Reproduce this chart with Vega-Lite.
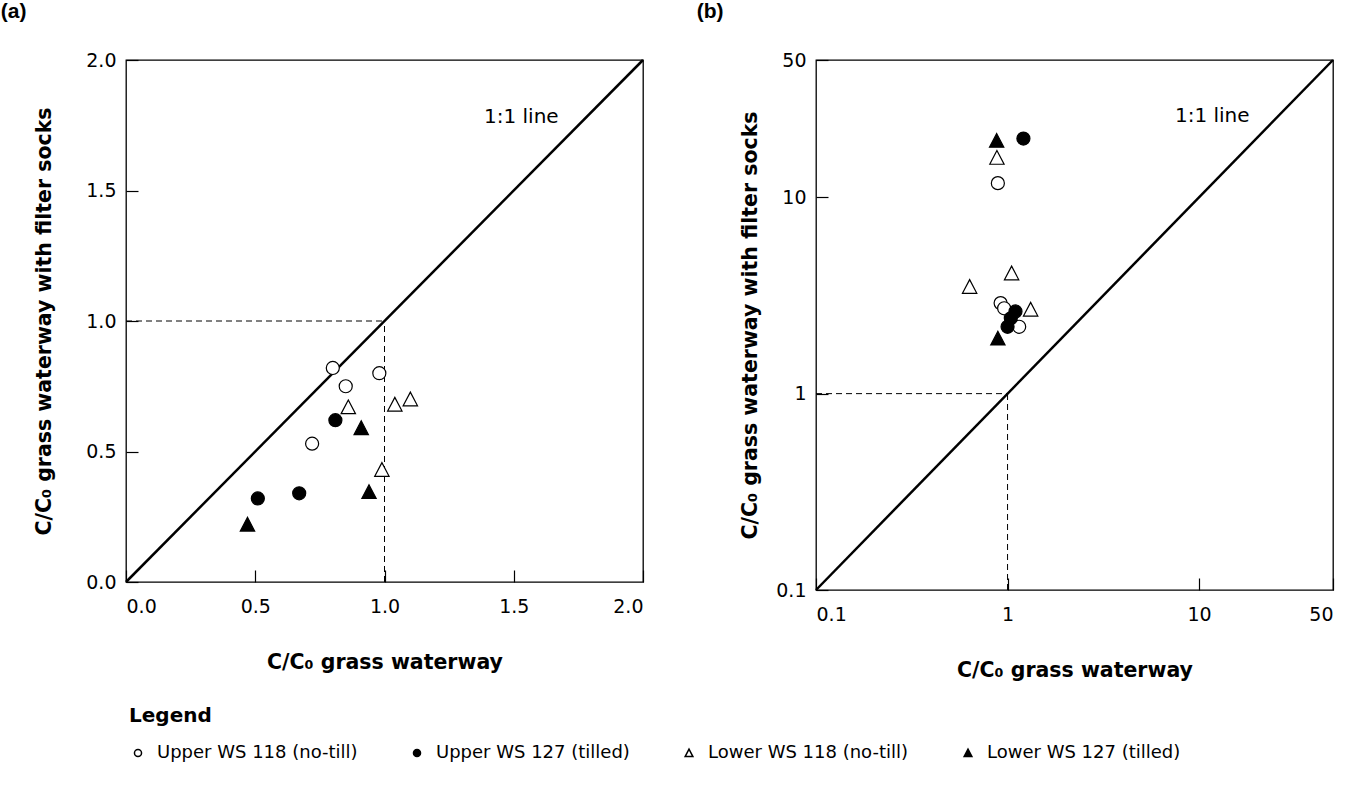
{
  "$schema": "https://vega.github.io/schema/vega-lite/v6.json",
  "padding": {"left": 0, "top": 0, "right": 5, "bottom": 5},
  "background": "white",
  "config": {
    "view": {"stroke": "black", "strokeWidth": 1.3},
    "axis": {"grid": false, "domain": false, "tickColor": "black", "tickSize": -12, "tickWidth": 1.2,
      "labelFont": "DejaVu Sans", "labelFontSize": 19, "labelColor": "black",
      "titleFont": "DejaVu Sans", "titleFontWeight": "bold", "titleFontSize": 20.5, "titleColor": "black"},
    "axisX": {"labelPadding": 27, "titlePadding": 36},
    "axisY": {"labelPadding": 22},
    "legend": {"orient": "none", "legendX": 3, "legendY": 646, "direction": "horizontal",
      "titleFont": "DejaVu Sans", "titleFontSize": 20, "titleFontWeight": "bold", "titleColor": "black", "titlePadding": 18,
      "labelFont": "DejaVu Sans", "labelFontSize": 18, "labelColor": "black", "labelLimit": 600, "symbolSize": 50,
      "columnPadding": 50, "labelOffset": 10},
    "title": {"font": "Liberation Sans", "fontSize": 21, "fontWeight": "bold", "anchor": "start", "frame": "bounds", "color": "black"}
  },
  "datasets": {
    "a_pts": [
      {"group": "Upper WS 118 (no-till)", "x": 0.80, "y": 0.82},
      {"group": "Upper WS 118 (no-till)", "x": 0.85, "y": 0.75},
      {"group": "Upper WS 118 (no-till)", "x": 0.98, "y": 0.80},
      {"group": "Upper WS 118 (no-till)", "x": 0.72, "y": 0.53},
      {"group": "Upper WS 127 (tilled)", "x": 0.81, "y": 0.62},
      {"group": "Upper WS 127 (tilled)", "x": 0.51, "y": 0.32},
      {"group": "Upper WS 127 (tilled)", "x": 0.67, "y": 0.34},
      {"group": "Lower WS 118 (no-till)", "x": 0.86, "y": 0.67},
      {"group": "Lower WS 118 (no-till)", "x": 1.04, "y": 0.68},
      {"group": "Lower WS 118 (no-till)", "x": 1.10, "y": 0.70},
      {"group": "Lower WS 118 (no-till)", "x": 0.99, "y": 0.43},
      {"group": "Lower WS 127 (tilled)", "x": 0.91, "y": 0.59},
      {"group": "Lower WS 127 (tilled)", "x": 0.94, "y": 0.345},
      {"group": "Lower WS 127 (tilled)", "x": 0.47, "y": 0.22}
    ],
    "b_pts": [
      {"group": "Upper WS 118 (no-till)", "x": 0.89, "y": 11.8},
      {"group": "Upper WS 118 (no-till)", "x": 0.92, "y": 2.89},
      {"group": "Upper WS 118 (no-till)", "x": 0.96, "y": 2.72},
      {"group": "Upper WS 118 (no-till)", "x": 1.15, "y": 2.19},
      {"group": "Upper WS 127 (tilled)", "x": 1.21, "y": 19.9},
      {"group": "Upper WS 127 (tilled)", "x": 1.10, "y": 2.62},
      {"group": "Upper WS 127 (tilled)", "x": 1.04, "y": 2.42},
      {"group": "Upper WS 127 (tilled)", "x": 1.00, "y": 2.19},
      {"group": "Lower WS 118 (no-till)", "x": 0.88, "y": 15.9},
      {"group": "Lower WS 118 (no-till)", "x": 1.05, "y": 4.1},
      {"group": "Lower WS 118 (no-till)", "x": 0.634, "y": 3.5},
      {"group": "Lower WS 118 (no-till)", "x": 1.32, "y": 2.68},
      {"group": "Lower WS 127 (tilled)", "x": 0.877, "y": 19.4},
      {"group": "Lower WS 127 (tilled)", "x": 0.89, "y": 1.91}
    ],
    "a_diag": [{"x": 0, "y": 0, "x2": 2, "y2": 2}],
    "a_dash": [{"x": 0, "y": 1, "x2": 1, "y2": 1}, {"x": 1, "y": 0, "x2": 1, "y2": 1}],
    "a_label": [{"x": 1.385, "y": 1.78, "text": "1:1 line"}],
    "b_diag": [{"x": 0.1, "y": 0.1, "x2": 50, "y2": 50}],
    "b_dash": [{"x": 0.1, "y": 1, "x2": 1, "y2": 1}, {"x": 1, "y": 0.1, "x2": 1, "y2": 1}],
    "b_label": [{"x": 7.48, "y": 25.8, "text": "1:1 line"}]
  },
  "spacing": 51,
  "hconcat": [
    {
      "width": 517,
      "height": 522,
      "title": {"text": "(a)", "dx": -34, "offset": 29},
      "encoding": {
        "x": {"field": "x", "type": "quantitative", "scale": {"domain": [0, 2], "nice": false, "zero": false},
          "axis": {"title": "C/C₀ grass waterway", "values": [0, 0.5, 1, 1.5, 2], "format": ".1f"}},
        "y": {"field": "y", "type": "quantitative", "scale": {"domain": [0, 2], "nice": false, "zero": false},
          "axis": {"title": "C/C₀ grass waterway with filter socks", "values": [0, 0.5, 1, 1.5, 2], "format": ".1f", "titlePadding": 31}}
      },
      "layer": [
        {"data": {"name": "a_dash"}, "mark": {"type": "rule", "color": "black", "strokeWidth": 1, "strokeDash": [6, 4]},
          "encoding": {"x2": {"field": "x2"}, "y2": {"field": "y2"}}},
        {"data": {"name": "a_diag"}, "mark": {"type": "rule", "color": "black", "strokeWidth": 2.5},
          "encoding": {"x2": {"field": "x2"}, "y2": {"field": "y2"}}},
        {"data": {"name": "a_label"}, "mark": {"type": "text", "align": "left", "baseline": "middle", "font": "DejaVu Sans", "fontSize": 20, "color": "black"},
          "encoding": {"text": {"field": "text"}}},
        {"data": {"name": "a_pts"}, "mark": {"type": "point", "filled": true, "stroke": "black", "strokeWidth": 1.2, "size": 170, "opacity": 1, "fillOpacity": 1, "strokeOpacity": 1},
          "encoding": {
            "shape": {"field": "group", "type": "nominal",
              "scale": {"domain": ["Upper WS 118 (no-till)", "Upper WS 127 (tilled)", "Lower WS 118 (no-till)", "Lower WS 127 (tilled)"], "range": ["circle", "circle", "M-1.1,1L0,-1.1L1.1,1Z", "M-1.1,1L0,-1.1L1.1,1Z"]},
              "legend": {"title": "Legend",
                "encode": {"symbols": {"update": {"fill": {"signal": "scale('fill', datum.value)"}, "stroke": {"value": "black"}, "strokeWidth": {"value": 1}, "opacity": {"value": 1}, "fillOpacity": {"value": 1}}}}}},
            "fill": {"field": "group", "type": "nominal",
              "scale": {"domain": ["Upper WS 118 (no-till)", "Upper WS 127 (tilled)", "Lower WS 118 (no-till)", "Lower WS 127 (tilled)"], "range": ["white", "black", "white", "black"]},
              "legend": null}
          }}
      ]
    },
    {
      "width": 517,
      "height": 530,
      "title": {"text": "(b)", "dx": -44, "offset": 29},
      "encoding": {
        "x": {"field": "x", "type": "quantitative", "scale": {"type": "log", "domain": [0.1, 50], "nice": false},
          "axis": {"title": "C/C₀ grass waterway", "values": [0.1, 1, 10, 50], "format": "~g"}},
        "y": {"field": "y", "type": "quantitative", "scale": {"type": "log", "domain": [0.1, 50], "nice": false},
          "axis": {"title": "C/C₀ grass waterway with filter socks", "values": [0.1, 1, 10, 50], "format": "~g", "titlePadding": 15}}
      },
      "layer": [
        {"data": {"name": "b_dash"}, "mark": {"type": "rule", "color": "black", "strokeWidth": 1, "strokeDash": [6, 4]},
          "encoding": {"x2": {"field": "x2"}, "y2": {"field": "y2"}}},
        {"data": {"name": "b_diag"}, "mark": {"type": "rule", "color": "black", "strokeWidth": 2.5},
          "encoding": {"x2": {"field": "x2"}, "y2": {"field": "y2"}}},
        {"data": {"name": "b_label"}, "mark": {"type": "text", "align": "left", "baseline": "middle", "font": "DejaVu Sans", "fontSize": 20, "color": "black"},
          "encoding": {"text": {"field": "text"}}},
        {"data": {"name": "b_pts"}, "mark": {"type": "point", "filled": true, "stroke": "black", "strokeWidth": 1.2, "size": 170, "opacity": 1, "fillOpacity": 1, "strokeOpacity": 1},
          "encoding": {
            "shape": {"field": "group", "type": "nominal",
              "scale": {"domain": ["Upper WS 118 (no-till)", "Upper WS 127 (tilled)", "Lower WS 118 (no-till)", "Lower WS 127 (tilled)"], "range": ["circle", "circle", "M-1.1,1L0,-1.1L1.1,1Z", "M-1.1,1L0,-1.1L1.1,1Z"]},
              "legend": null},
            "fill": {"field": "group", "type": "nominal",
              "scale": {"domain": ["Upper WS 118 (no-till)", "Upper WS 127 (tilled)", "Lower WS 118 (no-till)", "Lower WS 127 (tilled)"], "range": ["white", "black", "white", "black"]},
              "legend": null}
          }}
      ]
    }
  ]
}
